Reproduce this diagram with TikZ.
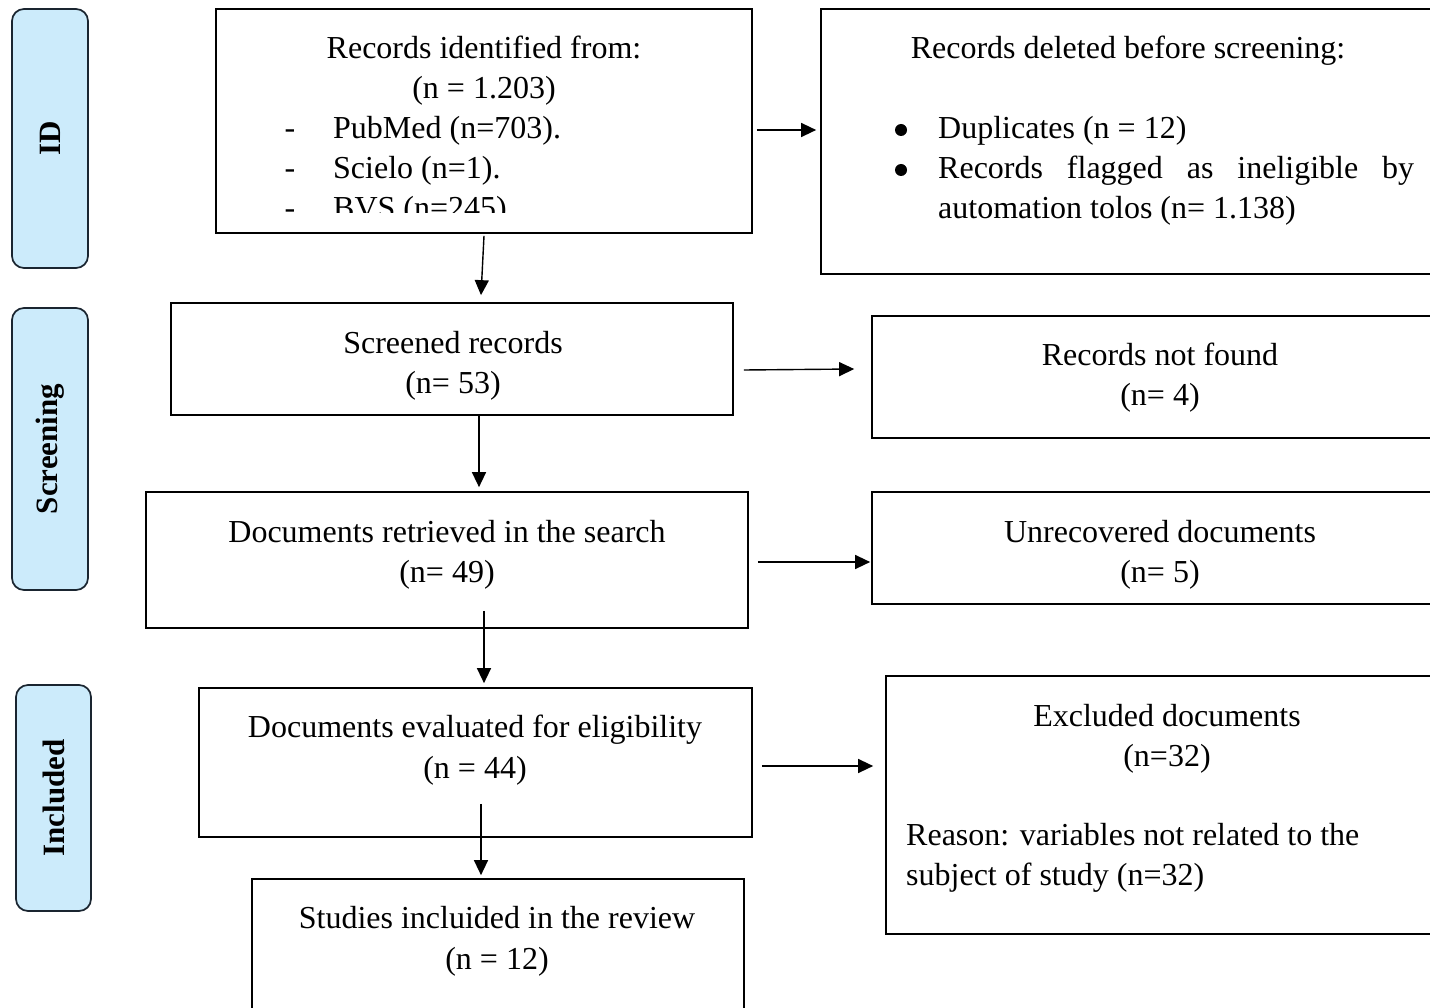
\documentclass[tikz,border=0pt]{standalone}
\usepackage{fontspec}
\setmainfont{Liberation Serif}
\usetikzlibrary{arrows.meta}
\definecolor{sidefill}{HTML}{CCEBFB}
\definecolor{sidedraw}{HTML}{1A2530}
\newcommand{\fsz}{\fontsize{32}{40}\selectfont}
\newcommand{\sidefsz}{\fontsize{31}{40}\selectfont}
\tikzset{
  box/.style={draw=black, line width=1.7pt, rectangle, inner sep=0pt},
  side/.style={draw=sidedraw, fill=sidefill, line width=1.7pt, rounded corners=12pt, inner sep=0pt, minimum width=76pt},
  sidetxt/.style={rotate=90, font=\sidefsz\bfseries, inner sep=0pt},
  txt/.style={anchor=base, inner sep=0pt, font=\fsz},
  txtl/.style={anchor=base west, inner sep=0pt, font=\fsz},
  bulletdot/.style={circle, fill=black, inner sep=0pt, minimum size=12pt},
  arr/.style={line width=1.4pt, -{Triangle[length=15pt,width=14pt]}}
}
\begin{document}
\begin{tikzpicture}[x=1pt, y=-1pt]
\clip (0,0) rectangle (1430,1008);
\fill[white] (0,0) rectangle (1430,1008);

% side labels
\node[side, minimum height=259pt] (sID) at (50,138.5) {};
\node[sidetxt] (tID) at (sID.center) {ID};
\node[side, minimum height=282pt] (sScr) at (50,449) {};
\node[sidetxt] (tScr) at (sScr.center) {Screening};
\node[side, minimum height=226pt, minimum width=75pt] (sInc) at (53.5,798) {};
\node[sidetxt] (tInc) at (sInc.center) {Included};

% boxes
\node[box, minimum width=536pt, minimum height=224pt] (A) at (484,121) {};
\node[box, minimum width=619pt, minimum height=265pt] (B) at (1130.5,141.5) {};
\node[box, minimum width=562pt, minimum height=112pt] (C) at (452,359) {};
\node[box, minimum width=568pt, minimum height=122pt] (D) at (1156,377) {};
\node[box, minimum width=602pt, minimum height=136pt] (E) at (447,560) {};
\node[box, minimum width=568pt, minimum height=112pt] (F) at (1156,548) {};
\node[box, minimum width=553pt, minimum height=149pt] (G) at (475.5,762.5) {};
\node[box, minimum width=554pt, minimum height=258pt] (H) at (1163,805) {};
\node[box, minimum width=492pt, minimum height=141pt] (I) at (498,949.5) {};

% box A text
\node[txt] (a1) at (484,59) {Records identified from:};
\node[txt] (a2) at (484,99) {(n = 1.203)};
\node[txt] (a3d) at (290,139) {-};
\node[txtl] (a3) at (333,139) {PubMed (n=703).};
\node[txt] (a4d) at (290,179) {-};
\node[txtl] (a4) at (333,179) {Scielo (n=1).};
\begin{scope}
\clip (216,9) rectangle (752,213);
\node[txt] (a5d) at (290,219) {-};
\node[txtl] (a5) at (333,219) {BVS (n=245)};
\end{scope}

% box B text
\node[txt] (b1) at (1128,59) {Records deleted before screening:};
\node[bulletdot] (b2d) at (901,130) {};
\node[txtl] (b2) at (938,139) {Duplicates (n = 12)};
\node[bulletdot] (b3d) at (901,170) {};
\node[txtl] (b3) at (938,179) {\makebox[476pt][s]{Records\hfill flagged\hfill as\hfill ineligible\hfill by}};
\node[txtl] (b4) at (938,219) {automation tolos (n= 1.138)};

% box C, D
\node[txt] (c1) at (453,353) {Screened records};
\node[txt] (c2) at (453,393) {(n= 53)};
\node[txt] (d1) at (1160,365) {Records not found};
\node[txt] (d2) at (1160,405) {(n= 4)};

% box E, F
\node[txt] (e1) at (447,542) {Documents retrieved in the search};
\node[txt] (e2) at (447,582) {(n= 49)};
\node[txt] (f1) at (1160,542) {Unrecovered documents};
\node[txt] (f2) at (1160,582) {(n= 5)};

% box G, H
\node[txt] (g1) at (475,737) {Documents evaluated for eligibility};
\node[txt] (g2) at (475,778) {(n = 44)};
\node[txt] (h1) at (1167,726) {Excluded documents};
\node[txt] (h2) at (1167,766) {(n=32)};
\node[txtl] (h3) at (906,845) {Reason: variables not related to the};
\node[txtl] (h4) at (906,885) {subject of study (n=32)};

% box I
\node[txt] (i1) at (497,928) {Studies incluided in the review};
\node[txt] (i2) at (497,969) {(n = 12)};

% connectors
\draw[arr] ([shift={(4,9)}]A.east) -- ([shift={(-4,-11.5)}]B.west);
\draw[arr] ([shift={(0,2)}]A.south) -- ([shift={(29,-7)}]C.north);
\draw[arr] ([shift={(10,11)}]C.east) -- ([shift={(-17,-8)}]D.west);
\draw[arr] ([shift={(27,0)}]C.south) -- ([shift={(32,-4)}]E.north);
\draw[arr] ([shift={(9,2)}]E.east) -- ([shift={(-1,14)}]F.west);
\draw[arr] ([shift={(37,-18)}]E.south) -- ([shift={(8.5,-4)}]G.north);
\draw[arr] ([shift={(9,3.5)}]G.east) -- ([shift={(-12,-39)}]H.west);
\draw[arr] ([shift={(5.5,-34)}]G.south) -- ([shift={(-17,-3)}]I.north);
\end{tikzpicture}
\end{document}
